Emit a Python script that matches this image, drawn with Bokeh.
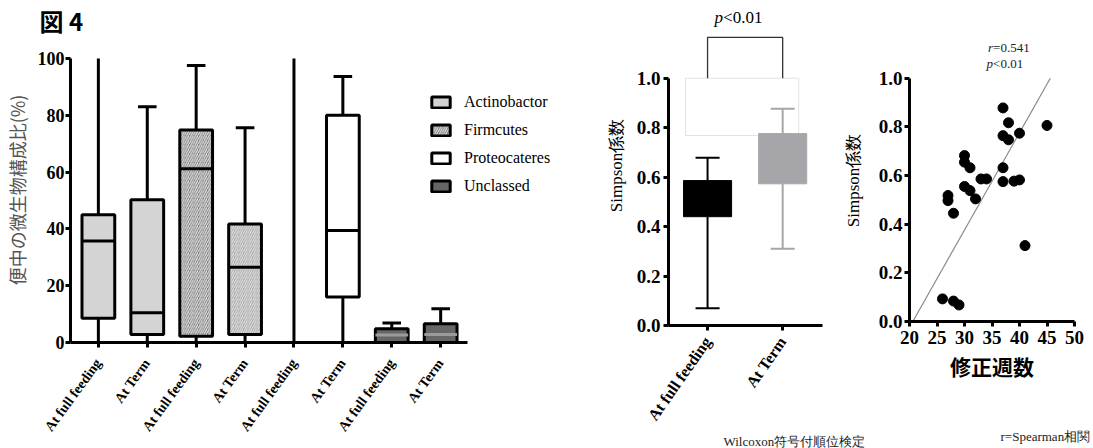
import math
from bokeh.plotting import figure
from bokeh.models import (ColumnDataSource, FixedTicker, Label, Legend, LegendItem,
                          Range1d, NumeralTickFormatter, Title)
from bokeh.layouts import row, column
from bokeh.embed import file_html
from bokeh.resources import INLINE

# ---------------- data ----------------
stages = ["At full feeding", "At Term"]
phyla = ["Actinobactor", "Firmcutes", "Proteocateres", "Unclassed"]

act_min = [0, 0];   act_q1 = [8.5, 2.8];  act_med = [35.7, 10.5]; act_q3 = [45.0, 50.3]; act_max = [100, 83.0]
fir_min = [0, 0];   fir_q1 = [2.2, 2.8];  fir_med = [61.2, 26.5]; fir_q3 = [74.8, 41.7]; fir_max = [97.5, 75.6]
pro_min = [0, 0];   pro_q1 = [0, 16.0];   pro_med = [0, 39.4];    pro_q3 = [0, 80.0];    pro_max = [100, 93.7]
unc_min = [0, 0];   unc_q1 = [0, 0];      unc_med = [2.6, 2.8];   unc_q3 = [4.8, 6.6];   unc_max = [6.9, 11.9]
pct_ticks = [0, 20, 40, 60, 80, 100]

simp_min = [0.07, 0.31]
simp_q1 = [0.44, 0.573]
simp_med = [0.52, 0.66]
simp_q3 = [0.586, 0.776]
simp_max = [0.678, 0.876]
simp_ticks = [0.0, 0.2, 0.4, 0.6, 0.8, 1.0]

weeks = [26, 28, 29, 27, 27, 28, 30, 30, 31, 30, 31, 32, 33, 34, 37, 38, 37, 38, 40, 45, 37, 37, 39, 40, 41]
simpson = [0.093, 0.084, 0.068, 0.518, 0.497, 0.445, 0.682, 0.655, 0.632, 0.555, 0.538, 0.504,
           0.586, 0.586, 0.878, 0.817, 0.764, 0.747, 0.774, 0.806, 0.632, 0.575, 0.577, 0.582, 0.312]
fit_x = [20.6, 45.6]
fit_y = [0.0, 1.0]
week_ticks = [20, 25, 30, 35, 40, 45, 50]

SERIF = "Liberation Serif"
CJK = "Noto Sans CJK JP"


def style_axes(p, size):
    for ax in (p.xaxis, p.yaxis):
        ax.axis_line_width = 3
        ax.axis_line_color = "black"
        ax.major_tick_line_width = 3
        ax.major_tick_out = 5
        ax.major_tick_in = 0
        ax.minor_tick_line_color = None
        ax.major_label_text_font = SERIF
        ax.major_label_text_font_style = "bold"
        ax.major_label_text_font_size = size
        ax.major_label_text_color = "black"
        ax.axis_label_text_font_style = "normal"
        ax.axis_label_text_color = "black"
    p.xgrid.visible = False
    p.ygrid.visible = False
    p.outline_line_color = None


def draw_boxes(p, xs, mn, q1, md, q3, mx, half, cap_half, fill, line, lw, med_color,
               whisk_color, wlw, hatch=None, hatch_color=None, top_limit=None):
    src = ColumnDataSource(dict(x=xs, left=[x - half for x in xs], right=[x + half for x in xs],
                                q1=q1, q3=q3, md=md, mn=mn, mx=mx, fill=fill,
                                cl=[x - cap_half for x in xs], cr=[x + cap_half for x in xs]))
    p.segment(x0="x", y0="q3", x1="x", y1="mx", source=src, line_color=whisk_color, line_width=wlw)
    p.segment(x0="x", y0="mn", x1="x", y1="q1", source=src, line_color=whisk_color, line_width=wlw)
    kw = {}
    if hatch:
        kw = dict(hatch_pattern=hatch, hatch_color=hatch_color, hatch_scale=4.5, hatch_weight=1.1)
    r = p.quad(left="left", right="right", bottom="q1", top="q3", source=src,
               fill_color="fill", line_color=line, line_width=lw, **kw)
    p.segment(x0="left", y0="md", x1="right", y1="md", source=src, line_color=med_color, line_width=lw)
    keep = [i for i in range(len(xs)) if top_limit is None or mx[i] < top_limit]
    csrc = ColumnDataSource(dict(cl=[src.data["cl"][i] for i in keep], cr=[src.data["cr"][i] for i in keep],
                                 mx=[mx[i] for i in keep]))
    p.segment(x0="cl", y0="mx", x1="cr", y1="mx", source=csrc, line_color=whisk_color, line_width=wlw)
    p.segment(x0="cl", y0="mn", x1="cr", y1="mn", source=src, line_color=whisk_color, line_width=wlw)
    return r


# ---------------- panel 1 ----------------
p1 = figure(width=560, height=448, x_range=Range1d(0.43, 10.41), y_range=Range1d(0, 107.4),
            output_backend="svg", toolbar_location=None,
            min_border_left=68, min_border_right=2, min_border_top=37, min_border_bottom=106)
style_axes(p1, "18px")
p1.xaxis.major_label_text_font_size = "14px"

groups = [
    (act_min, act_q1, act_med, act_q3, act_max, ["#d4d4d4", "#d4d4d4"], None, None, "black"),
    (fir_min, fir_q1, fir_med, fir_q3, fir_max, ["#7c7c7c", "#a2a2a2"], "/", "#e8e8e8", "black"),
    (pro_min, pro_q1, pro_med, pro_q3, pro_max, ["white", "white"], None, None, "black"),
    (unc_min, unc_q1, unc_med, unc_q3, unc_max, ["#666666", "#666666"], None, None, "#9a9a9a"),
]
positions = []
renderers = []
for g, (mn, q1, md, q3, mx, fills, hatch, hcol, medc) in enumerate(groups):
    xs = [2 * g + s + 1 for s in range(len(stages))]
    positions += xs
    r = draw_boxes(p1, xs, mn, q1, md, q3, mx, 0.335, 0.19, fills, "black", 3, medc,
                   "black", 3, hatch=hatch, hatch_color=hcol, top_limit=100)
    renderers.append(r)

p1.xaxis.ticker = FixedTicker(ticks=positions)
p1.xaxis.major_label_overrides = {x: stages[(x - 1) % 2] for x in positions}
p1.xaxis.major_label_orientation = 0.94
p1.xaxis.major_label_standoff = 13
p1.xaxis.bounds = (0.43, 8.55)
p1.yaxis.ticker = FixedTicker(ticks=pct_ticks)
p1.yaxis.bounds = (0, 100)
p1.yaxis.major_label_standoff = 1
p1.yaxis.axis_label = "便中の微生物構成比(%)"
p1.yaxis.axis_label_text_font = CJK
p1.yaxis.axis_label_text_font_size = "18px"
p1.yaxis.axis_label_text_color = "#555555"
p1.yaxis.axis_label_standoff = 5

legend = Legend(items=[LegendItem(label=ph, renderers=[r]) for ph, r in zip(phyla, renderers)],
                location=(359, 146), padding=0, margin=0, spacing=8, label_height=20,
                glyph_width=23, glyph_height=14, label_standoff=12,
                label_text_font=SERIF, label_text_font_size="16px", label_text_color="black",
                border_line_color=None, background_fill_alpha=0)
p1.add_layout(legend)

p1.add_layout(Title(text="図 4", align="left", offset=-31, standoff=0, text_font=CJK,
                    text_font_style="bold", text_font_size="24px", text_color="black"), "above")

# ---------------- panel 2 ----------------
p2 = figure(width=306, height=448, x_range=Range1d(0.48, 3.116), y_range=Range1d(0, 1.294),
            output_backend="svg", toolbar_location=None,
            min_border_left=108, min_border_right=0, min_border_top=5, min_border_bottom=123)
style_axes(p2, "19px")
p2.xaxis.major_label_text_font_size = "16px"
sx = [i + 1 for i in range(len(stages))]

# faint frame artefact behind the boxes
p2.quad(left=[sx[0] - 0.293], right=[sx[1] + 0.213], bottom=[0.768], top=[simp_ticks[-1]],
        fill_color="white", line_color="#e2e2e2", line_width=1)

colors2 = ["black", "#a6a6aa"]
for i in range(len(stages)):
    draw_boxes(p2, [sx[i]], [simp_min[i]], [simp_q1[i]], [simp_med[i]], [simp_q3[i]], [simp_max[i]],
               0.32, 0.16, [colors2[i]], colors2[i], 1, colors2[i], colors2[i], 2)

top = simp_ticks[-1]
p2.line(x=[sx[0], sx[0], sx[1], sx[1]], y=[top, 1.165, 1.165, top], line_color="#333333", line_width=1.3)
p2.add_layout(Label(x=1.5, y=1.245, x_offset=-22, text="p", text_font=SERIF, text_font_style="italic",
                    text_font_size="17px", text_align="right", text_baseline="middle", text_color="black"))
p2.add_layout(Label(x=1.5, y=1.245, x_offset=-22, text="<0.01", text_font=SERIF,
                    text_font_size="17px", text_align="left", text_baseline="middle", text_color="black"))

p2.xaxis.ticker = FixedTicker(ticks=sx)
p2.xaxis.major_label_overrides = {x: stages[x - 1] for x in sx}
p2.xaxis.major_label_orientation = 0.96
p2.xaxis.major_label_standoff = 8
p2.xaxis.bounds = (0.48, 2.53)
p2.yaxis.ticker = FixedTicker(ticks=simp_ticks)
p2.yaxis.formatter = NumeralTickFormatter(format="0.0")
p2.yaxis.bounds = (0, 1)
p2.yaxis.major_label_standoff = 3
p2.yaxis.axis_label = "Simpson係数"
p2.yaxis.axis_label_text_font = SERIF
p2.yaxis.axis_label_text_font_size = "17px"
p2.yaxis.axis_label_standoff = 8

p2.add_layout(Title(text="Wilcoxon符号付順位検定", align="left", offset=55, standoff=0,
                    text_font=SERIF, text_font_style="normal", text_font_size="13px",
                    text_color="#222222"), "below")
# y-axis title of the scatter panel (sits left of its axis, inside this canvas)
p2.add_layout(Label(x=185, y=145, x_units="screen", y_units="screen", text="Simpson係数",
                    text_font=SERIF, text_font_size="17px", angle=math.pi / 2,
                    text_align="center", text_baseline="middle", text_color="black"))

# ---------------- panel 3 ----------------
p3 = figure(width=227, height=448, x_range=Range1d(20, 50), y_range=Range1d(0, 1.299),
            output_backend="svg", toolbar_location=None,
            min_border_left=43, min_border_right=19, min_border_top=5, min_border_bottom=127)
style_axes(p3, "19px")
p3.line(x=fit_x, y=fit_y, line_color="#8a8a8a", line_width=1.2)
p3.scatter(x=weeks, y=simpson, size=10, fill_color="black", line_color="black")
p3.xaxis.ticker = FixedTicker(ticks=week_ticks)
p3.xaxis.major_label_standoff = 4
p3.yaxis.ticker = FixedTicker(ticks=simp_ticks)
p3.yaxis.formatter = NumeralTickFormatter(format="0.0")
p3.yaxis.bounds = (0, 1)
p3.yaxis.major_label_standoff = 2
p3.xaxis.axis_label = "修正週数"
p3.xaxis.axis_label_text_font = CJK
p3.xaxis.axis_label_text_font_style = "bold"
p3.xaxis.axis_label_text_font_size = "21px"
p3.xaxis.axis_label_standoff = 4

for yv, a, b in [(1.126, "r", "=0.541"), (1.06, "p", "<0.01")]:
    p3.add_layout(Label(x=35.2, y=yv, text=a, text_font=SERIF, text_font_style="italic",
                        text_font_size="13px", text_align="right", text_baseline="middle",
                        text_color="#222222"))
    p3.add_layout(Label(x=35.2, y=yv, text=b, text_font=SERIF,
                        text_font_size="13px", text_align="left", text_baseline="middle",
                        text_color="#222222"))
# empty spacer so that the note sits near the bottom edge
p3.add_layout(Title(text=" ", standoff=26, text_font=SERIF, text_font_size="13px"), "below")
p3.add_layout(Title(text="r=Spearman相関", align="left", offset=91, standoff=0,
                    text_font=SERIF, text_font_style="normal", text_font_size="13px",
                    text_color="#222222"), "below")

layout = row(column(p1), column(p2), column(p3))
open("out.html", "w").write(file_html(layout, INLINE))
